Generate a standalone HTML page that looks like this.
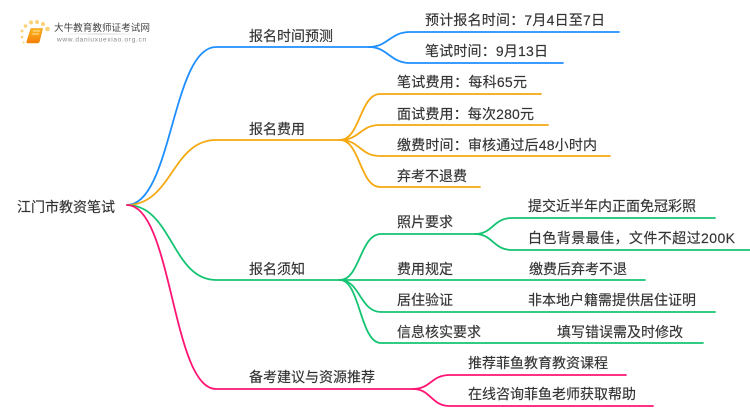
<!DOCTYPE html>
<html><head><meta charset="utf-8"><style>
html,body{margin:0;padding:0;background:#fff}
svg{display:block}
text{font-family:"Liberation Sans","Noto Sans CJK SC",sans-serif;font-size:14px;fill:#333;stroke:#333;stroke-width:.15}
path{fill:none;stroke-width:1.8;stroke-linecap:round}
</style></head><body>
<svg width="750" height="410" viewBox="0 0 750 410" xmlns="http://www.w3.org/2000/svg">
<defs><linearGradient id="bk" x1="0" y1="0" x2="0" y2="1"><stop offset="0" stop-color="#fbb81e"/><stop offset="1" stop-color="#f47d0a"/></linearGradient>
<linearGradient id="ul" x1="0" y1="0" x2="1" y2="0"><stop offset="0" stop-color="#ddd" stop-opacity="0"/><stop offset=".5" stop-color="#ccc"/><stop offset="1" stop-color="#ddd" stop-opacity="0"/></linearGradient></defs>
<!-- logo -->
<g>
<g fill="#fbd27a"><circle cx="22" cy="31" r="1.500"/><circle cx="25.500" cy="26" r="1.800"/><circle cx="31" cy="22.500" r="2"/><circle cx="37" cy="22" r="2"/><circle cx="43" cy="24" r="2"/><circle cx="47.500" cy="29" r="2.300"/><circle cx="22" cy="37" r="1.300"/><circle cx="23.500" cy="42.500" r="1"/></g>
<path d="M31 28.500h11.500l-3 12.500q-.5 2-2.500 2H27.500q-1 0 -.5-2z" style="fill:url(#bk);stroke:#f08a00;stroke-width:.6"/>
<path d="M33.500 31h6M32.500 34h6" style="stroke:#ffe3a8;stroke-width:1"/>
<rect x="56" y="33.500" width="90" height="1" fill="url(#ul)"/>
<text x="54" y="31" style="font-size:9.600px;fill:#444;stroke:none">大牛教育教师证考试网</text>
<text x="57" y="41.500" style="font-size:6.500px;fill:#888;stroke:none;letter-spacing:.7px">www.daniuxuexiao.org.cn</text>
</g>
<!-- blue -->
<path stroke="#1e8fff" d="M127 205C172 205 172 47 216 47H369"/>
<path stroke="#1e8fff" d="M369 47C388 47 390 32 410 32H619"/>
<path stroke="#1e8fff" d="M369 47C388 47 390 63 410 63H563"/>
<!-- orange -->
<path stroke="#f5a80f" d="M127 205C172 205 172 140 216 140H340"/>
<path stroke="#f5a80f" d="M340 140C360 140 360 94 380 94H541"/>
<path stroke="#f5a80f" d="M340 140C360 140 360 125 380 125H548"/>
<path stroke="#f5a80f" d="M340 140C360 140 360 156 380 156H610"/>
<path stroke="#f5a80f" d="M340 140C360 140 360 187 380 187H480"/>
<!-- green -->
<path stroke="#14c472" d="M127 205C172 205 172 280 216 280H340"/>
<path stroke="#14c472" d="M340 280C360 280 360 234 381 234H475"/>
<path stroke="#14c472" d="M340 280H645"/>
<path stroke="#14c472" d="M340 280C360 280 360 312 381 312H715"/>
<path stroke="#14c472" d="M340 280C360 280 360 343 381 343H703"/>
<path stroke="#14c472" d="M475 234C493 234 493 218 512 218H715"/>
<path stroke="#14c472" d="M475 234C493 234 493 250 512 250H750"/>
<!-- pink -->
<path stroke="#ff1473" d="M127 205C172 205 172 389 216 389H413"/>
<path stroke="#ff1473" d="M413 389C431 389 431 375 450 375H626"/>
<path stroke="#ff1473" d="M413 389C431 389 431 406 450 406H653"/>
<!-- labels -->
<text x="17" y="212">江门市教资笔试</text>
<text x="249" y="41">报名时间预测</text>
<text x="249" y="134">报名费用</text>
<text x="249" y="274">报名须知</text>
<text x="249" y="382">备考建议与资源推荐</text>
<text x="425" y="25" textLength="180">预计报名时间：7月4日至7日</text>
<text x="425" y="56" textLength="123">笔试时间：9月13日</text>
<text x="397" y="87" textLength="130">笔试费用：每科65元</text>
<text x="397" y="119" textLength="137">面试费用：每次280元</text>
<text x="397" y="150" textLength="200">缴费时间：审核通过后48小时内</text>
<text x="397" y="181">弃考不退费</text>
<text x="397" y="227">照片要求</text>
<text x="528" y="211">提交近半年内正面免冠彩照</text>
<text x="528" y="243" textLength="207">白色背景最佳，文件不超过200K</text>
<text x="397" y="274">费用规定</text>
<text x="529" y="274">缴费后弃考不退</text>
<text x="397" y="305">居住验证</text>
<text x="528" y="305">非本地户籍需提供居住证明</text>
<text x="397" y="337">信息核实要求</text>
<text x="557" y="337">填写错误需及时修改</text>
<text x="468" y="368">推荐菲鱼教育教资课程</text>
<text x="468" y="399">在线咨询菲鱼老师获取帮助</text>
</svg>
</body></html>
